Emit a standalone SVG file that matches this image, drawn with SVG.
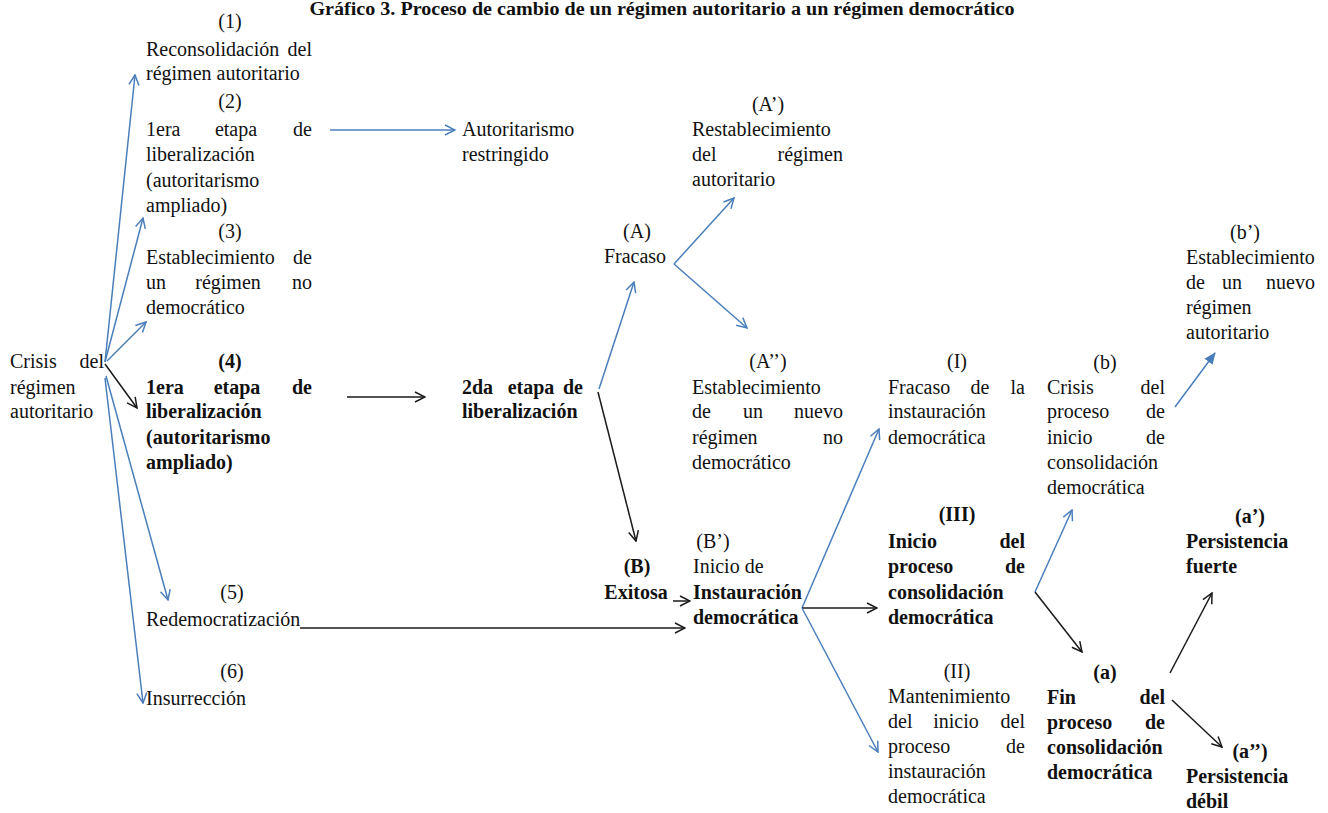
<svg xmlns="http://www.w3.org/2000/svg" width="1328" height="813" viewBox="0 0 1328 813">
<style>
text{font-family:"Liberation Serif","Times New Roman",serif;font-size:20px;fill:#111}
.b{font-weight:bold}
.c{text-anchor:middle}
.e{text-anchor:end}
.bl{stroke:#4a7ebb;stroke-width:1.5;fill:none}
.bk{stroke:#1a1a1a;stroke-width:1.5;fill:none}
</style>
<defs>
<marker id="ab" viewBox="0 0 12 12" refX="11" refY="6" markerWidth="12" markerHeight="12" markerUnits="userSpaceOnUse" orient="auto">
<path d="M1,1 L11,6 L1,11" fill="none" stroke="#4a7ebb" stroke-width="1.5"/>
</marker>
<marker id="ak" viewBox="0 0 12 12" refX="11" refY="6" markerWidth="12" markerHeight="12" markerUnits="userSpaceOnUse" orient="auto">
<path d="M1,1 L11,6 L1,11" fill="none" stroke="#1a1a1a" stroke-width="1.5"/>
</marker>
<marker id="af" viewBox="0 0 12 12" refX="11" refY="6" markerWidth="12" markerHeight="12" markerUnits="userSpaceOnUse" orient="auto">
<path d="M0,1 L12,6 L0,11 Z" fill="#4a7ebb"/>
</marker>
</defs>
<rect width="1328" height="813" fill="#fff"/>

<g id="title"><text class="b c" x="662" y="15" style="font-size:18px" textLength="705" lengthAdjust="spacingAndGlyphs">Gráfico 3. Proceso de cambio de un régimen autoritario a un régimen democrático</text></g>

<g id="crisis">
<text x="10" y="368">Crisis</text><text class="e" x="104" y="368">del</text>
<text x="10" y="394">régimen</text>
<text x="10" y="418">autoritario</text>
</g>

<g id="n1">
<text class="c" x="230" y="28">(1)</text>
<text x="146" y="56">Reconsolidación</text><text class="e" x="312" y="56">del</text>
<text x="146" y="80">régimen autoritario</text>
</g>

<g id="n2">
<text class="c" x="230" y="108">(2)</text>
<text x="146" y="136">1era</text><text class="c" x="236" y="136">etapa</text><text class="e" x="312" y="136">de</text>
<text x="146" y="161">liberalización</text>
<text x="146" y="187">(autoritarismo</text>
<text x="146" y="212">ampliado)</text>
</g>

<g id="restringido">
<text x="462" y="136">Autoritarismo</text>
<text x="462" y="161">restringido</text>
</g>

<g id="n3">
<text class="c" x="230" y="238">(3)</text>
<text x="146" y="264">Establecimiento</text><text class="e" x="312" y="264">de</text>
<text x="146" y="289">un</text><text class="c" x="228" y="289">régimen</text><text class="e" x="312" y="289">no</text>
<text x="146" y="314">democrático</text>
</g>

<g id="n4">
<text class="b c" x="230" y="368">(4)</text>
<text class="b" x="146" y="394">1era</text><text class="b c" x="237" y="394">etapa</text><text class="b e" x="312" y="394">de</text>
<text class="b" x="146" y="418">liberalización</text>
<text class="b" x="146" y="444">(autoritarismo</text>
<text class="b" x="146" y="469">ampliado)</text>
</g>

<g id="n5">
<text class="c" x="232" y="599">(5)</text>
<text x="146" y="626">Redemocratización</text>
</g>

<g id="n6">
<text class="c" x="232" y="678">(6)</text>
<text x="146" y="705">Insurrección</text>
</g>

<g id="etapa2">
<text class="b" x="462" y="394">2da</text><text class="b c" x="531" y="394">etapa</text><text class="b e" x="583" y="394">de</text>
<text class="b" x="462" y="418">liberalización</text>
</g>

<g id="nA">
<text class="c" x="637" y="238">(A)</text>
<text class="c" x="635" y="263">Fracaso</text>
</g>

<g id="nA1">
<text class="c" x="768" y="111">(A’)</text>
<text x="692" y="136">Restablecimiento</text>
<text x="692" y="161">del</text><text class="e" x="843" y="161">régimen</text>
<text x="692" y="186">autoritario</text>
</g>

<g id="nA2">
<text class="c" x="768" y="368">(A’’)</text>
<text x="692" y="394">Establecimiento</text>
<text x="692" y="418">de</text><text class="c" x="753" y="418">un</text><text class="e" x="843" y="418">nuevo</text>
<text x="692" y="444">régimen</text><text class="e" x="843" y="444">no</text>
<text x="692" y="469">democrático</text>
</g>

<g id="nB">
<text class="b c" x="637" y="573">(B)</text>
<text class="b c" x="636" y="599">Exitosa</text>
</g>

<g id="nB1">
<text class="c" x="713" y="548">(B’)</text>
<text x="693" y="573">Inicio de</text>
<text class="b" x="693" y="599">Instauración</text>
<text class="b" x="693" y="624">democrática</text>
</g>

<g id="nI">
<text class="c" x="957" y="368">(I)</text>
<text x="888" y="394">Fracaso</text><text class="c" x="980" y="394">de</text><text class="e" x="1025" y="394">la</text>
<text x="888" y="418">instauración</text>
<text x="888" y="444">democrática</text>
</g>

<g id="nIII">
<text class="b c" x="957" y="521">(III)</text>
<text class="b" x="888" y="548">Inicio</text><text class="b e" x="1025" y="548">del</text>
<text class="b" x="888" y="573">proceso</text><text class="b e" x="1025" y="573">de</text>
<text class="b" x="888" y="599">consolidación</text>
<text class="b" x="888" y="624">democrática</text>
</g>

<g id="nII">
<text class="c" x="957" y="678">(II)</text>
<text x="888" y="703">Mantenimiento</text>
<text x="888" y="728">del</text><text class="c" x="956" y="728">inicio</text><text class="e" x="1025" y="728">del</text>
<text x="888" y="753">proceso</text><text class="e" x="1025" y="753">de</text>
<text x="888" y="778">instauración</text>
<text x="888" y="803">democrática</text>
</g>

<g id="nb">
<text class="c" x="1105" y="369">(b)</text>
<text x="1047" y="394">Crisis</text><text class="e" x="1165" y="394">del</text>
<text x="1047" y="418">proceso</text><text class="e" x="1165" y="418">de</text>
<text x="1047" y="444">inicio</text><text class="e" x="1165" y="444">de</text>
<text x="1047" y="469">consolidación</text>
<text x="1047" y="494">democrática</text>
</g>

<g id="nb1">
<text class="c" x="1245" y="239">(b’)</text>
<text x="1186" y="264">Establecimiento</text>
<text x="1186" y="289">de</text><text class="c" x="1232" y="289">un</text><text class="e" x="1315" y="289">nuevo</text>
<text x="1186" y="314">régimen</text>
<text x="1186" y="339">autoritario</text>
</g>

<g id="na">
<text class="b c" x="1105" y="679">(a)</text>
<text class="b" x="1047" y="704">Fin</text><text class="b e" x="1165" y="704">del</text>
<text class="b" x="1047" y="729">proceso</text><text class="b e" x="1165" y="729">de</text>
<text class="b" x="1047" y="754">consolidación</text>
<text class="b" x="1047" y="779">democrática</text>
</g>

<g id="na1">
<text class="b c" x="1250" y="523">(a’)</text>
<text class="b" x="1186" y="548">Persistencia</text>
<text class="b" x="1186" y="573">fuerte</text>
</g>

<g id="na2">
<text class="b c" x="1250" y="758">(a’’)</text>
<text class="b" x="1186" y="783">Persistencia</text>
<text class="b" x="1186" y="808">débil</text>
</g>

<g id="connectors">
<line class="bl" x1="105" y1="362" x2="135" y2="75" marker-end="url(#ab)"/>
<line class="bl" x1="105" y1="362" x2="143" y2="218" marker-end="url(#ab)"/>
<line class="bl" x1="107" y1="361" x2="146" y2="322" marker-end="url(#ab)"/>
<line class="bk" x1="105" y1="364" x2="137" y2="408" marker-end="url(#ak)"/>
<line class="bl" x1="106" y1="376" x2="168" y2="600" marker-end="url(#ab)"/>
<line class="bl" x1="105" y1="378" x2="143" y2="703" marker-end="url(#ab)"/>
<line class="bl" x1="330" y1="130" x2="455" y2="130" marker-end="url(#ab)"/>
<line class="bk" x1="347" y1="397" x2="425" y2="397" marker-end="url(#ak)"/>
<line class="bl" x1="599" y1="389" x2="634" y2="282" marker-end="url(#ab)"/>
<line class="bk" x1="598" y1="392" x2="636" y2="541" marker-end="url(#ak)"/>
<line class="bl" x1="674" y1="264" x2="734" y2="198" marker-end="url(#ab)"/>
<line class="bl" x1="674" y1="264" x2="747" y2="328" marker-end="url(#ab)"/>
<line class="bk" x1="673" y1="601" x2="690" y2="601" marker-end="url(#ak)"/>
<line class="bk" x1="300" y1="628" x2="685" y2="628" marker-end="url(#ak)"/>
<line class="bl" x1="802" y1="608" x2="879" y2="429" marker-end="url(#ab)"/>
<line class="bk" x1="802" y1="608" x2="877" y2="608" marker-end="url(#ak)"/>
<line class="bl" x1="802" y1="608" x2="878" y2="752" marker-end="url(#ab)"/>
<line class="bl" x1="1035" y1="592" x2="1072" y2="510" marker-end="url(#ab)"/>
<line class="bk" x1="1035" y1="592" x2="1082" y2="652" marker-end="url(#ak)"/>
<line class="bl" x1="1175" y1="407" x2="1215" y2="353" marker-end="url(#af)"/>
<line class="bk" x1="1170" y1="673" x2="1212" y2="593" marker-end="url(#ak)"/>
<line class="bk" x1="1172" y1="700" x2="1222" y2="747" marker-end="url(#ak)"/>
</g>
</svg>
